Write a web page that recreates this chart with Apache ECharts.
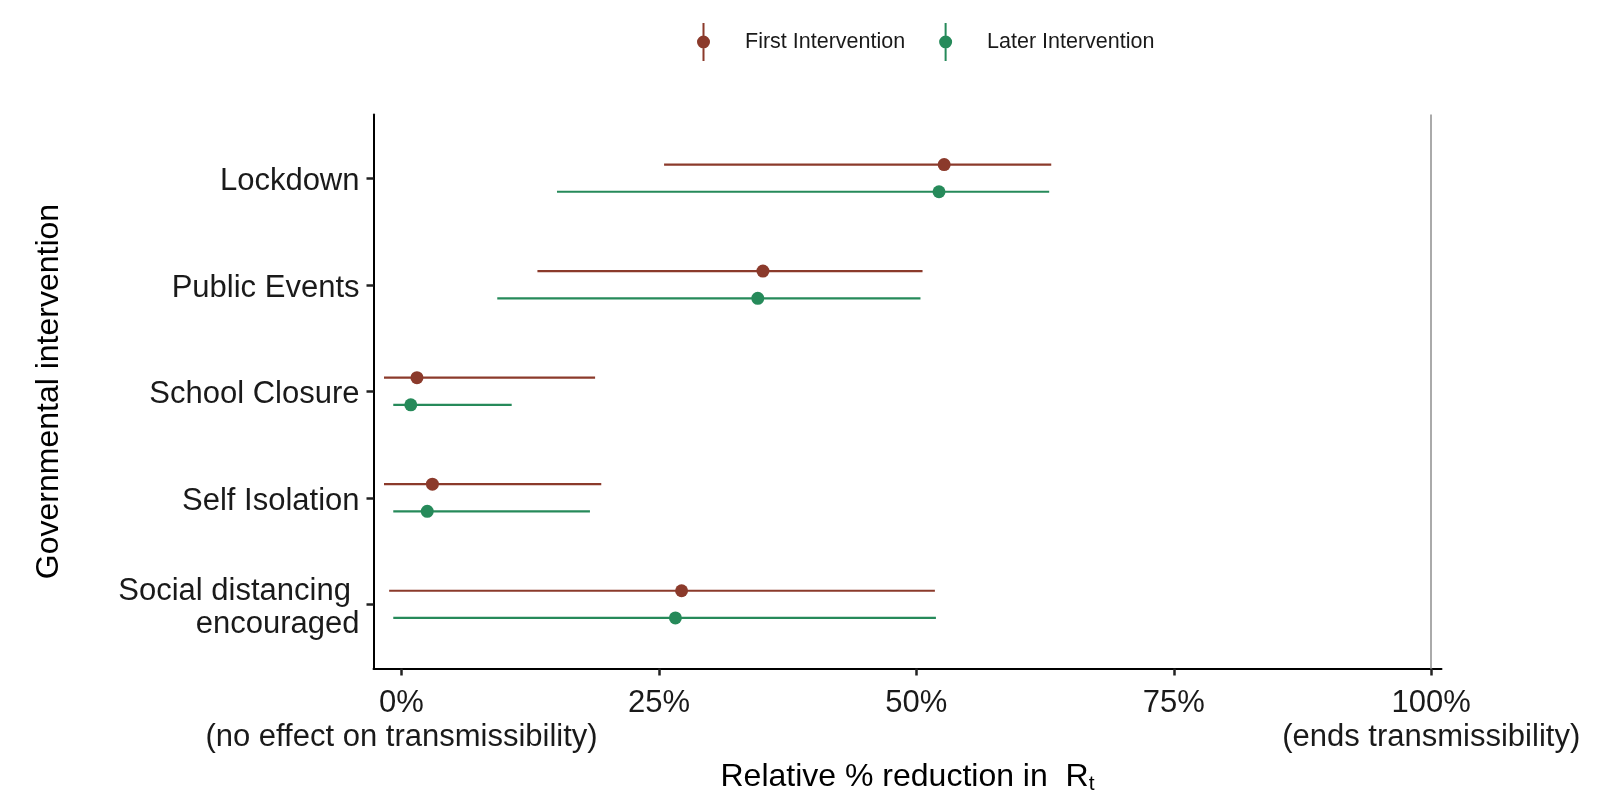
<!DOCTYPE html>
<html>
<head>
<meta charset="utf-8">
<script src="https://cdn.jsdelivr.net/npm/echarts@6/dist/echarts.min.js"></script>
<style>
  html, body { margin: 0; padding: 0; background: #ffffff; }
  #chart { width: 1600px; height: 800px; }
</style>
</head>
<body>
<div id="chart"></div>
<script>
// ---- data ----
const categories = ['Lockdown', 'Public Events', 'School Closure', 'Self Isolation', 'Social distancing \nencouraged'];
const seriesNames = ['First Intervention', 'Later Intervention'];
const firstLow  = [25.5, 13.2, -1.7, -1.7, -1.2];
const firstEst  = [52.7, 35.1,  1.5,  3.0, 27.2];
const firstHigh = [63.1, 50.6, 18.8, 19.4, 51.8];
const laterLow  = [15.1,  9.3, -0.8, -0.8, -0.8];
const laterEst  = [52.2, 34.6,  0.9,  2.5, 26.6];
const laterHigh = [62.9, 50.4, 10.7, 18.3, 51.9];
const xTickValues = [0, 25, 50, 75, 100];
const xTickLabels = ['0%\n(no effect on transmissibility)', '25%', '50%', '75%', '100%\n(ends transmissibility)'];
const refLineValue = 100;

const colors = ['#8B3A2B', '#268A5A'];
const dodge = [-0.13, 0.125];
const FONT = 'Liberation Sans, Arial, Helvetica, sans-serif';

function buildData(low, est, high) {
  return categories.map((c, i) => [i + 1, low[i], est[i], high[i]]);
}

function makeRender(offset, color) {
  return function (params, api) {
    const y = api.value(0) + offset;
    const lo = api.coord([api.value(1), y]);
    const hi = api.coord([api.value(3), y]);
    const mid = api.coord([api.value(2), y]);
    return {
      type: 'group',
      children: [
        { type: 'line', shape: { x1: lo[0], y1: lo[1], x2: hi[0], y2: hi[1] },
          style: { stroke: color, lineWidth: 2.2 } },
        { type: 'circle', shape: { cx: mid[0], cy: mid[1], r: 6.5 },
          style: { fill: color } }
      ]
    };
  };
}

const legendIcon = 'path://M5.5,0 L7.5,0 L7.5,38 L5.5,38 Z M6.5,12.5 A6.5,6.5 0 1,1 6.5,25.5 A6.5,6.5 0 1,1 6.5,12.5 Z';

const chart = echarts.init(document.getElementById('chart'), null, { renderer: 'canvas' });
chart.setOption({
  animation: false,
  backgroundColor: '#ffffff',
  textStyle: { fontFamily: FONT },
  legend: {
    left: 692, top: 18,
    itemWidth: 13, itemHeight: 38, itemGap: 34,
    icon: legendIcon,
    data: seriesNames.map((n, i) => ({ name: n, itemStyle: { color: colors[i] } })),
    textStyle: { fontSize: 21.5, color: '#1a1a1a', fontFamily: FONT, padding: [0, 0, 0, 30] }
  },
  grid: { left: 373.5, right: 158.5, top: 114.5, bottom: 131, containLabel: false },
  xAxis: {
    type: 'value', min: -2.72, max: 101.0,
    splitLine: { show: false },
    axisLine: { show: true, onZero: false, lineStyle: { color: '#000000', width: 2 } },
    axisTick: { show: true, length: 7, customValues: xTickValues, lineStyle: { color: '#222222', width: 2.5 } },
    axisLabel: {
      customValues: xTickValues, fontSize: 31, color: '#1a1a1a', margin: 18, lineHeight: 34,
      hideOverlap: false, align: 'center',
      formatter: function (v) { const k = xTickValues.indexOf(v); return k >= 0 ? xTickLabels[k] : ''; }
    },
    name: '{a|Relative % reduction in  R}{s|t}',
    nameLocation: 'middle', nameGap: 91,
    nameTextStyle: {
      rich: {
        a: { fontSize: 32, color: '#000000', fontFamily: FONT, lineHeight: 36 },
        s: { fontSize: 21, color: '#000000', fontFamily: FONT, lineHeight: 36, padding: [14, 0, 0, 0] }
      }
    }
  },
  yAxis: {
    type: 'value', min: 0.4, max: 5.6, inverse: true,
    splitLine: { show: false },
    axisLine: { show: true, onZero: false, lineStyle: { color: '#000000', width: 2 } },
    axisTick: { show: true, length: 7, customValues: [1, 2, 3, 4, 5], lineStyle: { color: '#222222', width: 2.5 } },
    axisLabel: {
      customValues: [1, 2, 3, 4, 5], margin: 14,
      hideOverlap: false,
      formatter: function (v) {
        const s = categories[Math.round(v) - 1] || '';
        return s.split('\n').map(t => '{a|' + t + '}').join('\n');
      },
      rich: {
        a: { fontSize: 31, color: '#1a1a1a', fontFamily: FONT, lineHeight: 33, padding: [6, 0, 0, 0] }
      }
    },
    name: 'Governmental intervention',
    nameLocation: 'middle', nameGap: 308, nameRotate: 90,
    nameTextStyle: { fontSize: 32, color: '#000000', fontFamily: FONT }
  },
  series: [
    {
      name: seriesNames[0], type: 'custom',
      renderItem: makeRender(dodge[0], colors[0]),
      encode: { x: [1, 2, 3], y: 0 },
      itemStyle: { color: colors[0] },
      data: buildData(firstLow, firstEst, firstHigh),
      markLine: {
        silent: true, symbol: 'none', label: { show: false },
        lineStyle: { color: '#aaaaaa', width: 2, type: 'solid' },
        data: [{ xAxis: refLineValue }],
        z: 1
      }
    },
    {
      name: seriesNames[1], type: 'custom',
      renderItem: makeRender(dodge[1], colors[1]),
      encode: { x: [1, 2, 3], y: 0 },
      itemStyle: { color: colors[1] },
      data: buildData(laterLow, laterEst, laterHigh)
    }
  ]
});
</script>
</body>
</html>
